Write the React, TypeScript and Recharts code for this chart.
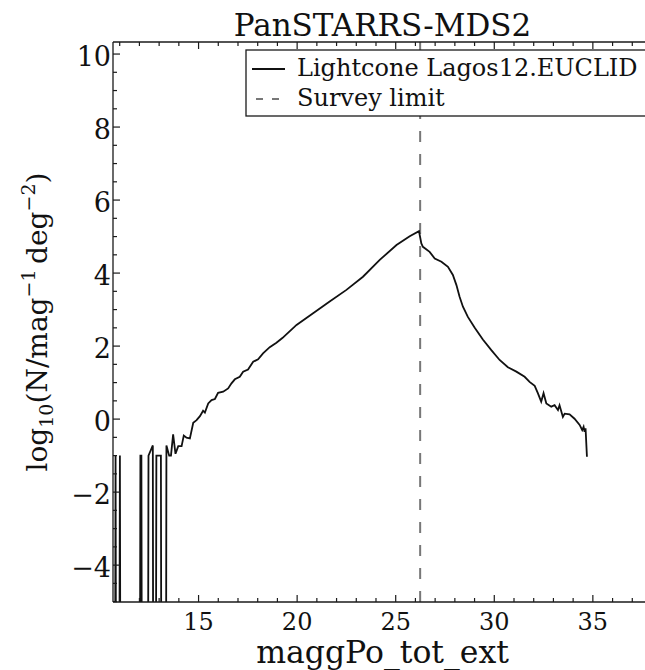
import React from "react";
import { LineChart, Line, XAxis, YAxis, ReferenceLine } from "recharts";

const FONT = "'DejaVu Serif', 'Liberation Serif', serif";
const INK = "#1a1a1a";

// magnitude bins and log10 counts; -30 marks empty bins (log of zero, off the axes)
const magBins = [
  10.69, 10.79, 10.89, 11.01, 11.11,
  11.95, 12.05, 12.1, 12.2,
  12.36, 12.46, 12.68, 12.76,
  12.86, 12.97, 13.09, 13.18,
  13.28, 13.37, 13.51, 13.6, 13.71, 13.83, 13.97, 14.14, 14.25, 14.39,
  14.56, 14.73, 14.9, 15.07, 15.23, 15.32, 15.49, 15.66, 15.83, 15.99,
  16.25, 16.5, 16.67, 16.84, 17.09, 17.26, 17.51, 17.77, 18.02, 18.27,
  18.61, 18.95, 19.25, 19.97, 20.81, 21.65, 22.5, 23.34, 24.19, 25.04,
  25.71, 26.18, 26.3, 26.38, 26.72, 26.98, 27.32, 27.65, 27.9, 28.08,
  28.24, 28.41, 28.66, 29.0, 29.42, 29.85, 30.27, 30.69, 31.12, 31.54,
  31.79, 32.05, 32.21, 32.38, 32.5, 32.64, 32.89, 33.06, 33.23, 33.31,
  33.48, 33.57, 33.82, 34.07, 34.33, 34.46, 34.53, 34.58, 34.63, 34.7,
];
const logN = [
  -30, -1, -30, -1, -30,
  -30, -1, -1, -30,
  -30, -1, -0.72, -30,
  -1, -1, -1, -30,
  -30, -0.72, -1, -1, -0.42, -0.95, -0.74, -0.74, -0.45, -0.51,
  -0.53, -0.1, -0.03, 0.08, 0.23, 0.18, 0.43, 0.52, 0.55, 0.72,
  0.75, 0.84, 0.98, 1.09, 1.16, 1.3, 1.36, 1.57, 1.64, 1.8,
  1.97, 2.09, 2.22, 2.58, 2.9, 3.22, 3.54, 3.9, 4.36, 4.77,
  5.01, 5.15, 4.81, 4.72, 4.58, 4.4, 4.31, 4.17, 3.95, 3.67,
  3.35, 3.08, 2.8, 2.51, 2.18, 1.89, 1.62, 1.42, 1.3, 1.16,
  1.02, 0.91, 0.71, 0.48, 0.71, 0.43, 0.34, 0.38, 0.25, 0.38,
  0.06, 0.15, 0.13, 0.01, -0.16, -0.3, -0.21, -0.35, -0.25, -1.03,
];
const surveyLimit = 26.24;

const xTicks = [
  11, 12, 13, 14, 15, 16, 17, 18, 19, 20, 21, 22, 23, 24,
  25, 26, 27, 28, 29, 30, 31, 32, 33, 34, 35, 36, 37, 38,
];
const xLabelled = [15, 20, 25, 30, 35];
const yTicks = [
  -5, -4.5, -4, -3.5, -3, -2.5, -2, -1.5, -1, -0.5, 0, 0.5, 1, 1.5, 2, 2.5,
  3, 3.5, 4, 4.5, 5, 5.5, 6, 6.5, 7, 7.5, 8, 8.5, 9, 9.5, 10,
];
const yLabelled = [-4, -2, 0, 2, 4, 6, 8, 10];

const data = magBins.map((mag, i) => ({ mag, logN: logN[i] }));

const fmt = (v: number) => (v < 0 ? `\u2212${-v}` : `${v}`);

function BottomTick(props: any) {
  const { x, y, payload } = props;
  const major = xLabelled.includes(payload.value);
  return (
    <g>
      <line x1={x} x2={x} y1={y} y2={y - (major ? 7 : 4)} stroke={INK} strokeWidth={1.2} />
      {major && (
        <text x={x} y={y + 28} textAnchor="middle" fontFamily={FONT} fontSize={24} fill="#111">
          {fmt(payload.value)}
        </text>
      )}
    </g>
  );
}

function TopTick(props: any) {
  const { x, y, payload } = props;
  const major = xLabelled.includes(payload.value);
  return <line x1={x} x2={x} y1={y} y2={y + (major ? 7 : 4)} stroke={INK} strokeWidth={1.2} />;
}

function LeftTick(props: any) {
  const { x, y, payload } = props;
  const major = yLabelled.includes(payload.value);
  return (
    <g>
      <line x1={x} x2={x + (major ? 7 : 4)} y1={y} y2={y} stroke={INK} strokeWidth={1.2} />
      {major && (
        <text x={x - 2} y={y + 12} textAnchor="end" fontFamily={FONT} fontSize={27} fill="#111">
          {fmt(payload.value)}
        </text>
      )}
    </g>
  );
}

const TitleLabel = ({ viewBox }: any) => (
  <text x={viewBox.x + viewBox.width / 2} y={36} textAnchor="middle" fontFamily={FONT} fontSize={31} fill="#111">
    PanSTARRS-MDS2
  </text>
);

const XTitle = ({ viewBox }: any) => (
  <text x={viewBox.x + viewBox.width / 2} y={viewBox.y + 61} textAnchor="middle" fontFamily={FONT} fontSize={31.5} fill="#111">
    maggPo_tot_ext
  </text>
);

const YTitle = ({ viewBox }: any) => {
  const cx = 47;
  const cy = viewBox.y + viewBox.height / 2;
  return (
    <text x={cx} y={cy} transform={`rotate(-90 ${cx} ${cy})`} textAnchor="middle" fontFamily={FONT} fontSize={28} fill="#111">
      log
      <tspan fontSize={19} dy={6}>10</tspan>
      <tspan dy={-6}>(N/mag</tspan>
      <tspan fontSize={19} dy={-12}>{"\u22121"}</tspan>
      <tspan dy={12}>{"\u2009deg"}</tspan>
      <tspan fontSize={19} dy={-12}>{"\u22122"}</tspan>
      <tspan dy={12}>)</tspan>
    </text>
  );
};

function LegendBox() {
  return (
    <svg width={645} height={670} style={{ position: "absolute", left: 0, top: 0, pointerEvents: "none" }}>
      <rect x={246} y={50} width={404} height={66} fill="#fff" stroke={INK} strokeWidth={1.3} />
      <line x1={252} x2={285} y1={69} y2={69} stroke="#111" strokeWidth={1.8} />
      <text x={297} y={76} fontFamily={FONT} fontSize={24} fill="#111">Lightcone Lagos12.EUCLID</text>
      <line x1={256} x2={281} y1={99} y2={99} stroke="#777" strokeWidth={1.8} strokeDasharray="7 9" />
      <text x={297} y={106} fontFamily={FONT} fontSize={24} fill="#111">Survey limit</text>
    </svg>
  );
}

export default function App() {
  return (
    <div style={{ position: "absolute", left: 0, top: 0, width: 645, height: 670, overflow: "hidden", background: "#fff" }}>
      <LineChart width={720} height={670} data={data} margin={{ top: 0, right: 68, bottom: 0, left: 0 }}>
        <XAxis
          dataKey="mag"
          type="number"
          domain={[10.66, 38]}
          allowDataOverflow
          ticks={xTicks}
          interval={0}
          height={68}
          tickSize={0}
          tickMargin={0}
          tickLine={false}
          tick={<BottomTick />}
          axisLine={{ stroke: INK, strokeWidth: 1.3 }}
          label={{ content: XTitle }}
        />
        <XAxis
          xAxisId="top"
          orientation="top"
          dataKey="mag"
          type="number"
          domain={[10.66, 38]}
          allowDataOverflow
          ticks={xTicks}
          interval={0}
          height={42}
          tickSize={0}
          tickMargin={0}
          tickLine={false}
          tick={<TopTick />}
          axisLine={{ stroke: INK, strokeWidth: 1.3 }}
          label={{ content: TitleLabel }}
        />
        <YAxis
          type="number"
          domain={[-5.01, 10.33]}
          allowDataOverflow
          ticks={yTicks}
          interval={0}
          width={113}
          tickSize={0}
          tickMargin={0}
          tickLine={false}
          tick={<LeftTick />}
          axisLine={{ stroke: INK, strokeWidth: 1.3 }}
          label={{ content: YTitle }}
        />
        <ReferenceLine x={surveyLimit} stroke="#777" strokeWidth={2} strokeDasharray="11 12" />
        <Line
          dataKey="logN"
          type="linear"
          stroke="#111"
          strokeWidth={1.8}
          dot={false}
          activeDot={false}
          isAnimationActive={false}
        />
      </LineChart>
      <LegendBox />
    </div>
  );
}
